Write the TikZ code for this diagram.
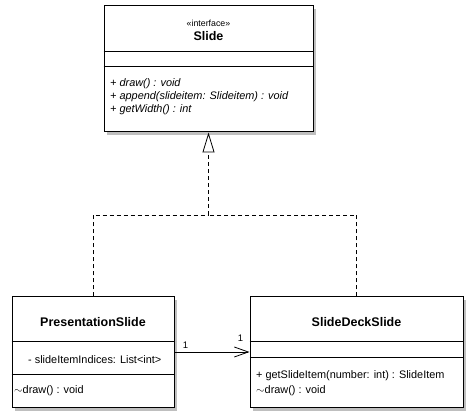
\documentclass[tikz,border=0pt]{standalone}
\usepackage{fontspec}
\setmainfont{Liberation Sans}
\usetikzlibrary{arrows.meta,shadows}
\begin{document}
\begin{tikzpicture}[x=1pt, y=-1pt,
        classbox/.style={draw=black, line width=1pt, fill=white, inner sep=0pt,
            drop shadow={shadow xshift=3pt, shadow yshift=-3pt, fill=black!25, opacity=1}},
        classname/.style={font=\bfseries\fontsize{12.5}{14}\selectfont, inner sep=0pt},
        member/.style={font=\fontsize{10.9}{12}\selectfont, inner sep=0pt, anchor=west},
        mult/.style={font=\fontsize{9.5}{10}\selectfont, inner sep=0pt},
        realize/.style={dash pattern=on 4pt off 3pt, line width=0.8pt},
        sep/.style={line width=1pt}]
        \useasboundingbox (0, 0) rectangle (475, 419);

        % interface
        \node[classbox, minimum width=209pt, minimum height=126pt] (slide) at (208.5, 69) {};
        \node[inner sep=0pt, font=\fontsize{8.8}{10}\selectfont] (stereo) at (208.5, 23) {«interface»};
        \node[classname] (slide_name) at (208.5, 36) {Slide};
        \draw[sep] (slide.west |- 0, 52) -- (slide.east |- 0, 52);
        \draw[sep] (slide.west |- 0, 67) -- (slide.east |- 0, 67);
        \node[member] (op_draw) at (110, 84) {\itshape + draw() : void};
        \node[member] (op_append) at (110, 97) {\itshape + append(slideitem: Slideitem) : void};
        \node[member] (op_width) at (110, 110) {\itshape + getWidth() : int};

        % classes
        \node[classbox, minimum width=162pt, minimum height=111pt] (pres) at (93, 352.5) {};
        \node[classname] (pres_name) at (93, 322) {PresentationSlide};
        \draw[sep] (pres.west |- 0, 342) -- (pres.east |- 0, 342);
        \draw[sep] (pres.west |- 0, 375) -- (pres.east |- 0, 375);
        \node[member] (pres_attr) at (28, 360) {- slideItemIndices: List<int>};
        \node[member] (pres_draw) at (14, 391) {$\sim$draw() : void};

        \node[classbox, minimum width=213pt, minimum height=111pt] (deck) at (356.5, 352.5) {};
        \node[classname] (deck_name) at (356.5, 322) {SlideDeckSlide};
        \draw[sep] (deck.west |- 0, 342) -- (deck.east |- 0, 342);
        \draw[sep] (deck.west |- 0, 358) -- (deck.east |- 0, 358);
        \node[member] (deck_item) at (256, 376) {+ getSlideItem(number: int) : SlideItem};
        \node[member] (deck_draw) at (256, 391) {$\sim$draw() : void};

        % relations
        \coordinate (join) at (208.5, 215);
        \draw[realize] (pres.north) |- (join);
        \draw[realize] (deck.north) |- (join);
        \draw[realize, -{Triangle[open, length=20pt, width=12pt, line width=0.8pt]}] (join) -- (slide.south);
        \draw[line width=0.8pt, -{Straight Barb[length=14pt, width=10pt, line width=0.8pt]}] (pres.east |- 0, 352) -- (deck.west |- 0, 352)
            node[mult, pos=0, xshift=11pt, yshift=7pt] (mult_a) {1}
            node[mult, pos=1, xshift=-9pt, yshift=14pt] (mult_b) {1};
    \end{tikzpicture}
\end{document}
